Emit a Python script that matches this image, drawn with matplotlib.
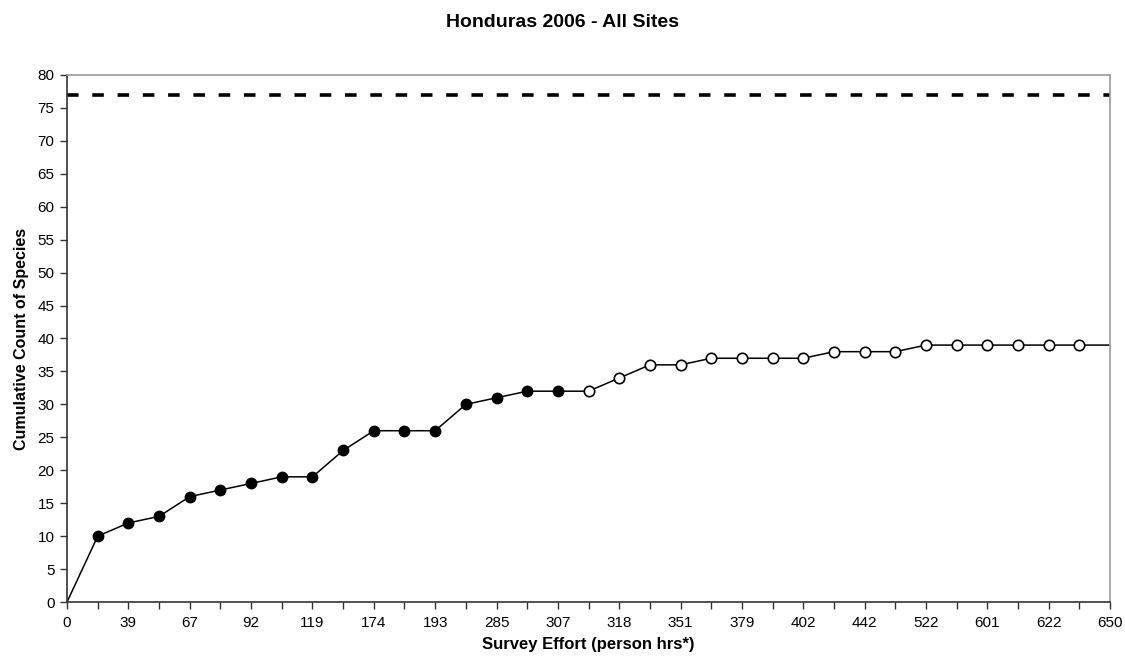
import numpy as np
import matplotlib
matplotlib.use('Agg')
import matplotlib.pyplot as plt

plt.rcParams['font.family'] = ['Liberation Sans', 'DejaVu Sans']

# cumulative species count per survey step (35 steps)
species_count = [0, 10, 12, 13, 16, 17, 18, 19, 19, 23, 26, 26, 26, 30, 31, 32,
                 32, 32, 34, 36, 36, 37, 37, 37, 37, 38, 38, 38, 39, 39, 39, 39,
                 39, 39, 39]
# labels shown on every second step
effort_labels = ['0', '39', '67', '92', '119', '174', '193', '285', '307',
                 '318', '351', '379', '402', '442', '522', '601', '622', '650']
estimated_total = 77

steps = np.arange(len(species_count))
counts = np.array(species_count)

fig = plt.figure(figsize=(11.25, 6.56), dpi=100)
ax = fig.add_axes([0.0596, 0.0823, 0.9271, 0.8034])

ax.plot(steps, counts, color='black', lw=1.1, zorder=2)
# first part of the survey: filled markers, later part: open markers
ax.plot(steps[1:17], counts[1:17], 'o', ms=7.5, mfc='black', mec='black', zorder=3)
ax.plot(steps[17:34], counts[17:34], 'o', ms=7.5, mfc='white', mec='black', mew=1.2, zorder=3)

ax.axhline(estimated_total, color='black', lw=2.6, dashes=(3.2, 3.8), zorder=2)

ax.set_xlim(0, len(species_count) - 1)
ax.set_ylim(0, 80)
ax.set_yticks(np.arange(0, 81, 5))
ax.set_xticks(steps)
xlabels = [''] * len(steps)
for i, lab in enumerate(effort_labels):
    xlabels[i * 2] = lab
ax.set_xticklabels(xlabels)
ax.tick_params(axis='both', direction='out', length=5, width=1, color='#333333', labelsize=11, pad=4)
ax.tick_params(axis='x', pad=5)

for s in ['left', 'bottom']:
    ax.spines[s].set_color('#333333')
    ax.spines[s].set_linewidth(1.2)
for s in ['top', 'right']:
    ax.spines[s].set_color('#999999')
    ax.spines[s].set_linewidth(1.2)

ax.set_xlabel('Survey Effort (person hrs*)', fontsize=12, fontweight='bold', labelpad=5)
ax.set_ylabel('Cumulative Count of Species', fontsize=11.5, fontweight='bold', labelpad=6)
fig.suptitle('Honduras 2006 - All Sites', fontsize=14, fontweight='bold', x=0.5, y=0.966, va='center')

fig.savefig('out.png', dpi=100)
